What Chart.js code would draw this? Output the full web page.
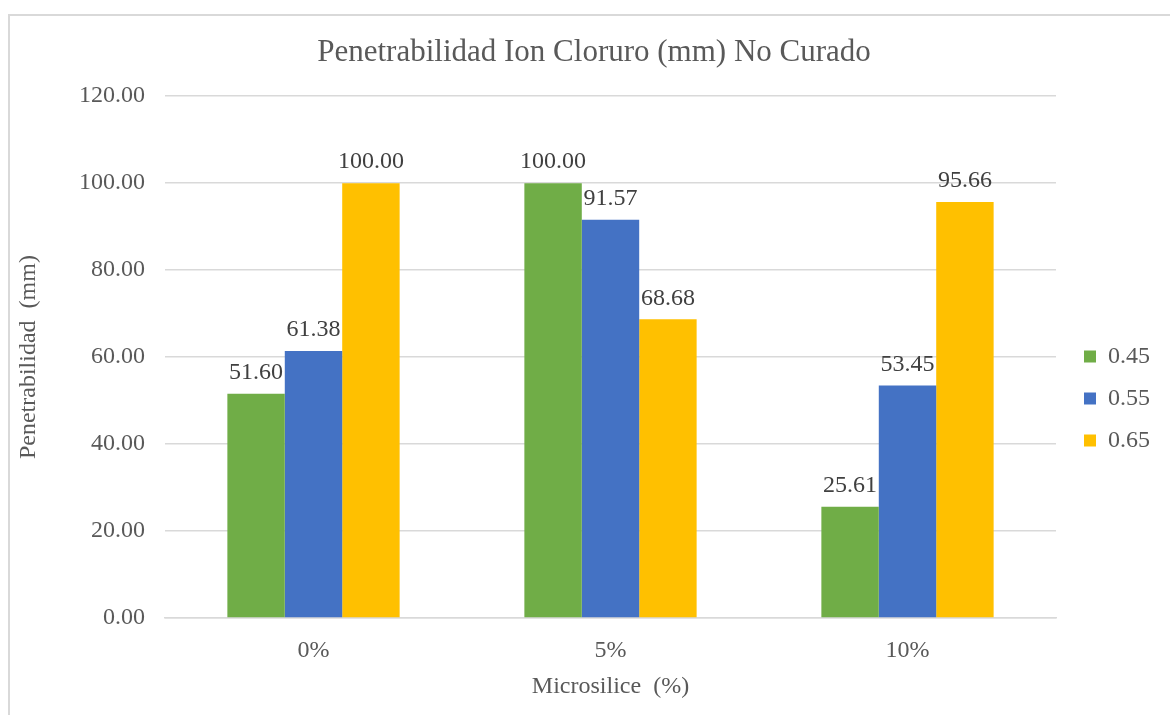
<!DOCTYPE html>
<html>
<head>
<meta charset="utf-8">
<script src="https://cdn.jsdelivr.net/npm/chart.js@4"></script>
<style>
  html, body { margin: 0; padding: 0; background: #fff; }
  #wrap { position: relative; width: 1170px; height: 715px; }
</style>
</head>
<body>
<div id="wrap"><canvas id="penetrationChart" width="1170" height="715"></canvas></div>
<script>
var categories = ["0%", "5%", "10%"];
var series_names = ["0.45", "0.55", "0.65"];
var values_045 = [51.60, 100.00, 25.61];
var values_055 = [61.38, 91.57, 53.45];
var values_065 = [100.00, 68.68, 95.66];
var y_ticks = [0, 20, 40, 60, 80, 100, 120];

var textColor = "#595959";
var serif = "'Liberation Serif', 'Times New Roman', serif";

// light frame round the chart, like the Excel chart border
var framePlugin = {
  id: "frame",
  beforeDraw: function (chart) {
    var ctx = chart.ctx;
    ctx.save();
    ctx.fillStyle = "#fff";
    ctx.fillRect(0, 0, chart.width, chart.height);
    ctx.strokeStyle = "#d9d9d9";
    ctx.lineWidth = 2;
    ctx.strokeRect(9, 15, chart.width + 20, chart.height + 20);
    ctx.restore();
  }
};

// the original legend sits lower and further right, the title a bit right
var layoutShift = {
  id: "layoutShift",
  afterLayout: function (chart) {
    var l = chart.legend;
    l.left += 10; l.right += 10;
    l.top += 41; l.bottom += 41;
    var t = chart.titleBlock;
    t.left += 19; t.right += 19;
  }
};

// value labels above each bar
var valueLabels = {
  id: "valueLabels",
  afterDatasetsDraw: function (chart) {
    var ctx = chart.ctx;
    ctx.save();
    ctx.font = "24px " + serif;
    ctx.fillStyle = "#404040";
    ctx.textAlign = "center";
    ctx.textBaseline = "bottom";
    chart.data.datasets.forEach(function (ds, i) {
      chart.getDatasetMeta(i).data.forEach(function (bar, j) {
        ctx.fillText(ds.data[j].toFixed(2), bar.x, bar.y - 9);
      });
    });
    ctx.restore();
  }
};

var chartData = {
  labels: categories,
  datasets: [
    { label: series_names[0], data: values_045, backgroundColor: "#70AD47" },
    { label: series_names[1], data: values_055, backgroundColor: "#4472C4" },
    { label: series_names[2], data: values_065, backgroundColor: "#FFC000" }
  ]
};

new Chart(document.getElementById("penetrationChart").getContext("2d"), {
  type: "bar",
  data: chartData,
  options: {
    responsive: false,
    animation: false,
    layout: { padding: { left: 0, right: 20, top: 0, bottom: 0 } },
    datasets: { bar: { categoryPercentage: 0.58, barPercentage: 1.0 } },
    plugins: {
      title: {
        display: true,
        text: "Penetrabilidad Ion Cloruro (mm) No Curado",
        color: textColor,
        font: { family: serif, size: 31, weight: "normal" },
        padding: { top: 34, bottom: 25 }
      },
      legend: {
        position: "right",
        labels: {
          color: textColor,
          font: { family: serif, size: 24 },
          boxWidth: 12,
          boxHeight: 12,
          padding: 18
        }
      },
      tooltip: { enabled: false }
    },
    scales: {
      x: {
        grid: { display: false },
        border: { color: "#d9d9d9", width: 1.5 },
        ticks: { color: textColor, font: { family: serif, size: 24 }, padding: 10 },
        title: {
          display: true,
          text: "Microsilice  (%)",
          color: textColor,
          font: { family: serif, size: 24 },
          padding: { top: 8, bottom: 14 }
        },
        afterFit: function (scale) { scale.height = 97; }
      },
      y: {
        min: 0,
        max: 120,
        afterBuildTicks: function (scale) {
          scale.ticks = y_ticks.map(function (v) { return { value: v }; });
        },
        grid: { color: "#d9d9d9", lineWidth: 1.5, drawTicks: false },
        border: { display: false },
        ticks: {
          color: textColor,
          font: { family: serif, size: 24 },
          padding: 20,
          callback: function (v) { return Number(v).toFixed(2); }
        },
        title: {
          display: true,
          text: "Penetrabilidad  (mm)",
          color: textColor,
          font: { family: serif, size: 24 },
          padding: { top: 14, bottom: 0 }
        },
        afterFit: function (scale) { scale.width = 165; }
      }
    }
  },
  plugins: [framePlugin, layoutShift, valueLabels]
});
</script>
</body>
</html>
